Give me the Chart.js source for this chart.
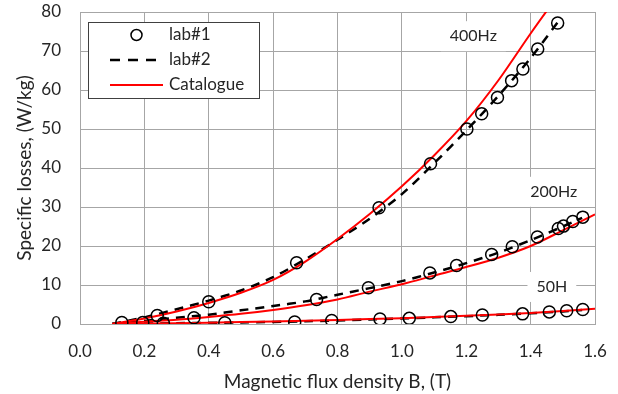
<!DOCTYPE html>
<html lang="en">
<head>
    <meta charset="UTF-8">
    <title>Specific losses vs magnetic flux density</title>
    <script src="https://cdn.jsdelivr.net/npm/chart.js@4.4.0/dist/chart.umd.min.js"></script>
    <style>
        html, body {
            margin: 0;
            padding: 0;
            background: #fff;
        }

        .chart-wrap {
            width: 618px;
            height: 394px;
        }
    </style>
</head>
<body>
    <div class="chart-wrap">
        <canvas id="loss-chart" width="618" height="394"></canvas>
    </div>

    <script>
        // lab#1 measured points (B in T, losses in W/kg)
        const lab1B400 = [0.24, 0.40, 0.673, 0.929, 1.089, 1.202, 1.248, 1.297, 1.341, 1.376, 1.422, 1.484];
        const lab1P400 = [2.2, 5.7, 15.7, 29.8, 41.1, 50.0, 53.9, 58.1, 62.4, 65.4, 70.5, 77.2];
        const lab1B200 = [0.195, 0.354, 0.735, 0.896, 1.087, 1.170, 1.279, 1.343, 1.421, 1.486, 1.502, 1.531, 1.562];
        const lab1P200 = [0.4, 1.6, 6.3, 9.3, 13.1, 15.0, 17.8, 19.8, 22.3, 24.5, 25.1, 26.3, 27.4];
        const lab1B50 = [0.13, 0.259, 0.45, 0.667, 0.782, 0.932, 1.023, 1.152, 1.25, 1.375, 1.458, 1.512, 1.562];
        const lab1P50 = [0.4, 0.2, 0.3, 0.5, 0.9, 1.3, 1.45, 1.9, 2.3, 2.6, 3.1, 3.4, 3.7];

        // lab#2 curves
        const lab2B400 = [0.1, 0.2, 0.3, 0.4, 0.5, 0.6, 0.7, 0.8, 0.9, 1.0, 1.1, 1.2, 1.3, 1.4, 1.49];
        const lab2P400 = [0, 1.7, 3.8, 6.0, 8.6, 12.0, 16.6, 21.6, 27.0, 33.3, 41.2, 49.6, 58.5, 68.2, 78.0];
        const lab2B200 = [0.1, 0.2, 0.3, 0.4, 0.5, 0.6, 0.7, 0.8, 0.9, 1.0, 1.1, 1.2, 1.3, 1.4, 1.5, 1.56];
        const lab2P200 = [0, 0.8, 1.6, 2.4, 3.5, 4.6, 5.8, 7.5, 9.2, 11.0, 13.2, 15.6, 18.3, 21.5, 25.0, 27.2];
        const lab2B50 = [0.1, 0.3, 0.5, 0.7, 0.9, 1.1, 1.3, 1.5, 1.56];
        const lab2P50 = [0, 0.2, 0.4, 0.7, 1.15, 1.7, 2.35, 3.2, 3.6];

        // Catalogue curves
        const catB400 = [0.1, 0.2, 0.3, 0.4, 0.5, 0.6, 0.7, 0.8, 0.9, 1.0, 1.1, 1.2, 1.3, 1.4, 1.5];
        const catP400 = [0, 1.4, 3.2, 5.4, 8.0, 11.3, 16.0, 21.8, 28.2, 35.3, 43.2, 52.0, 62.5, 74.5, 86.0];
        const catB200 = [0.1, 0.2, 0.3, 0.4, 0.5, 0.6, 0.7, 0.8, 0.9, 1.0, 1.1, 1.2, 1.3, 1.4, 1.5, 1.6];
        const catP200 = [0, 0.6, 1.1, 1.8, 2.6, 3.6, 4.8, 6.3, 8.3, 10.2, 12.4, 14.6, 17.0, 20.0, 24.0, 28.1];
        const catB50 = [0.1, 0.2, 0.4, 0.6, 0.8, 1.0, 1.2, 1.4, 1.6];
        const catP50 = [0, 0.1, 0.35, 0.65, 1.05, 1.5, 2.1, 2.85, 3.9];

        const xTicks = [0, 0.2, 0.4, 0.6, 0.8, 1.0, 1.2, 1.4, 1.6];
        const yTicks = [0, 10, 20, 30, 40, 50, 60, 70, 80];
        const legendLabels = ['lab#1', 'lab#2', 'Catalogue'];
        const freqLabels = ['400Hz', '200Hz', '50H'];
        const freqLabelB = [1.222, 1.472, 1.466];
        const freqLabelP = [73.8, 33.9, 9.5];

        const FONT = 'Lato, "Open Sans", sans-serif';
        const TEXT_COLOR = '#262626';
        const GRID_COLOR = '#a6a6a6';

        function pts(xs, ys) {
            return xs.map((x, i) => ({ x: x, y: ys[i] }));
        }

        function circles(xs, ys) {
            return {
                data: pts(xs, ys),
                showLine: false,
                pointStyle: 'circle',
                pointRadius: 6,
                pointBorderWidth: 1.5,
                pointBorderColor: '#000',
                pointBackgroundColor: 'rgba(0,0,0,0)',
                order: 0
            };
        }

        function dashed(xs, ys) {
            return {
                data: pts(xs, ys),
                showLine: true,
                borderColor: '#000',
                borderWidth: 2.5,
                borderDash: [9, 7],
                pointRadius: 0,
                tension: 0.3,
                order: 2
            };
        }

        function catalogue(xs, ys) {
            return {
                data: pts(xs, ys),
                showLine: true,
                borderColor: '#ff0000',
                borderWidth: 2,
                pointRadius: 0,
                tension: 0.3,
                order: 1
            };
        }

        // white boxed labels 400Hz / 200Hz / 50H
        const freqLabelPlugin = {
            id: 'freqLabels',
            beforeDatasetsDraw(chart) {
                const ctx = chart.ctx;
                const xs = chart.scales.x, ys = chart.scales.y;
                ctx.save();
                ctx.font = '16px ' + FONT;
                ctx.textAlign = 'center';
                ctx.textBaseline = 'middle';
                freqLabels.forEach((t, i) => {
                    const px = xs.getPixelForValue(freqLabelB[i]);
                    const py = ys.getPixelForValue(freqLabelP[i]);
                    const w = ctx.measureText(t).width + 18;
                    ctx.fillStyle = '#fff';
                    ctx.fillRect(px - w / 2, py - 15, w, 30);
                    ctx.fillStyle = TEXT_COLOR;
                    ctx.fillText(t, px, py);
                });
                ctx.restore();
            }
        };

        // boxed legend in the top-left corner of the plot
        const boxLegendPlugin = {
            id: 'boxLegend',
            afterDraw(chart) {
                const ctx = chart.ctx;
                const area = chart.chartArea;
                const x0 = area.left + 8, y0 = area.top + 10;
                const w = 171, h = 76;
                ctx.save();
                ctx.fillStyle = '#fff';
                ctx.fillRect(x0, y0, w, h);
                ctx.strokeStyle = '#404040';
                ctx.lineWidth = 1;
                ctx.strokeRect(x0 + 0.5, y0 + 0.5, w, h);

                const rowY = [y0 + 13, y0 + 38, y0 + 63];
                const lineL = x0 + 22, lineR = x0 + 75;

                // lab#1 circle
                ctx.beginPath();
                ctx.arc((lineL + lineR) / 2, rowY[0], 5.5, 0, Math.PI * 2);
                ctx.strokeStyle = '#000';
                ctx.lineWidth = 1.5;
                ctx.stroke();

                // lab#2 dashes
                ctx.beginPath();
                ctx.setLineDash([10, 8]);
                ctx.lineWidth = 2.5;
                ctx.moveTo(lineL, rowY[1]);
                ctx.lineTo(lineR, rowY[1]);
                ctx.stroke();
                ctx.setLineDash([]);

                // catalogue line
                ctx.beginPath();
                ctx.strokeStyle = '#ff0000';
                ctx.lineWidth = 2;
                ctx.moveTo(lineL, rowY[2]);
                ctx.lineTo(lineR, rowY[2]);
                ctx.stroke();

                ctx.font = '17px ' + FONT;
                ctx.fillStyle = TEXT_COLOR;
                ctx.textAlign = 'left';
                ctx.textBaseline = 'middle';
                legendLabels.forEach((t, i) => ctx.fillText(t, x0 + 81, rowY[i]));
                ctx.restore();
            }
        };

        const chart = new Chart(document.getElementById('loss-chart'), {
            type: 'scatter',
            data: {
                datasets: [
                    circles(lab1B400, lab1P400),
                    circles(lab1B200, lab1P200),
                    circles(lab1B50, lab1P50),
                    catalogue(catB400, catP400),
                    catalogue(catB200, catP200),
                    catalogue(catB50, catP50),
                    dashed(lab2B400, lab2P400),
                    dashed(lab2B200, lab2P200),
                    dashed(lab2B50, lab2P50)
                ]
            },
            options: {
                responsive: false,
                animation: false,
                layout: {
                    padding: { top: 12, right: 23, left: 0, bottom: 0 }
                },
                plugins: {
                    legend: { display: false },
                    tooltip: { enabled: false }
                },
                scales: {
                    x: {
                        type: 'linear',
                        min: xTicks[0],
                        max: xTicks[xTicks.length - 1],
                        afterBuildTicks: (s) => { s.ticks = xTicks.map(v => ({ value: v })); },
                        afterFit: (s) => {
                            s.height = 70;
                            s.paddingLeft = 0;
                            s.paddingRight = 0;
                        },
                        ticks: {
                            callback: (v) => Number(v).toFixed(1),
                            font: { family: FONT, size: 17 },
                            color: TEXT_COLOR,
                            padding: 17,
                            maxRotation: 0
                        },
                        grid: { color: GRID_COLOR, drawTicks: false },
                        border: { color: GRID_COLOR },
                        title: {
                            display: true,
                            text: 'Magnetic flux density B, (T)',
                            font: { family: FONT, size: 19 },
                            color: TEXT_COLOR,
                            padding: { top: 4, bottom: 1 }
                        }
                    },
                    y: {
                        type: 'linear',
                        min: yTicks[0],
                        max: yTicks[yTicks.length - 1],
                        afterBuildTicks: (s) => { s.ticks = yTicks.map(v => ({ value: v })); },
                        afterFit: (s) => {
                            s.width = 80;
                            s.paddingTop = 0;
                            s.paddingBottom = 0;
                        },
                        ticks: {
                            font: { family: FONT, size: 17 },
                            color: TEXT_COLOR,
                            padding: 19
                        },
                        grid: { color: GRID_COLOR, drawTicks: false },
                        border: { color: GRID_COLOR },
                        title: {
                            display: true,
                            text: 'Specific losses, (W/kg)',
                            font: { family: FONT, size: 19 },
                            color: TEXT_COLOR,
                            padding: { top: 13, bottom: 4 }
                        }
                    }
                }
            },
            plugins: [freqLabelPlugin, boxLegendPlugin]
        });
    </script>
</body>
</html>
